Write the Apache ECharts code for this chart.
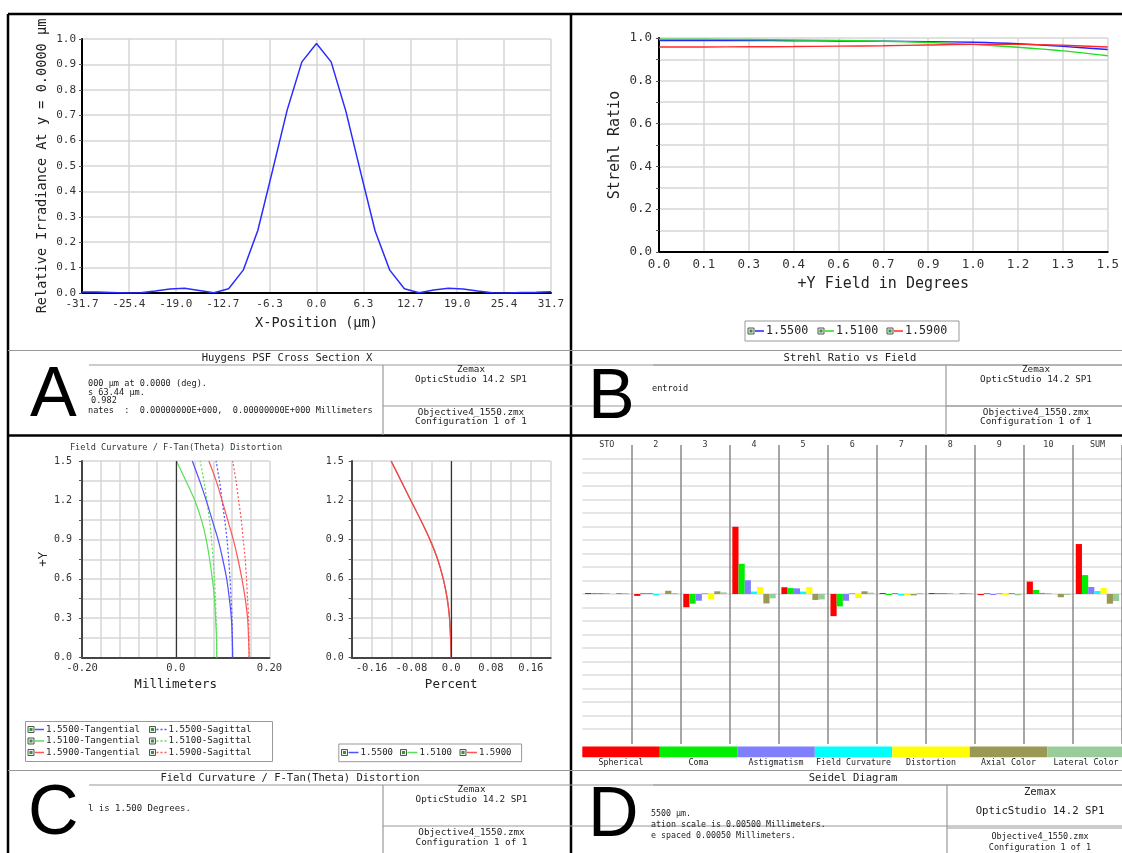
<!DOCTYPE html>
<html>
<head>
<meta charset="utf-8">
<script src="https://cdn.jsdelivr.net/npm/echarts@6/dist/echarts.min.js"></script>
<style>
  html, body { margin: 0; padding: 0; background: #fff; }
  #chart { width: 1122px; height: 853px; }
</style>
</head>
<body>
<div id="chart"></div>
<script>
// ---- A: Huygens PSF cross section ----
const psfX = [-31.72, -29.74, -27.75, -25.77, -23.79, -21.81, -19.82, -17.84, -15.86, -13.88, -11.89, -9.91, -7.93, -5.95, -3.97, -1.98, 0,
              1.98, 3.97, 5.95, 7.93, 9.91, 11.89, 13.88, 15.86, 17.84, 19.82, 21.81, 23.79, 25.77, 27.75, 29.74, 31.72];
const psfIrradiance = [0.004, 0.004, 0.002, 0.000, 0.001, 0.008, 0.016, 0.019, 0.010, 0.001, 0.017, 0.090, 0.247, 0.482, 0.720, 0.910, 0.982,
                       0.910, 0.716, 0.478, 0.244, 0.090, 0.017, 0.001, 0.012, 0.019, 0.016, 0.008, 0.001, 0.000, 0.002, 0.003, 0.005];
const psfTicks = ["-31.7", "-25.4", "-19.0", "-12.7", "-6.3", "0.0", "6.3", "12.7", "19.0", "25.4", "31.7"];
const irradianceTicks = ["0.0", "0.1", "0.2", "0.3", "0.4", "0.5", "0.6", "0.7", "0.8", "0.9", "1.0"];

// ---- B: Strehl ratio vs field ----
const fieldDeg = [0, 0.15, 0.3, 0.45, 0.6, 0.75, 0.9, 1.05, 1.2, 1.35, 1.5];
const strehl1550 = [0.988, 0.988, 0.988, 0.987, 0.986, 0.985, 0.983, 0.980, 0.973, 0.961, 0.946];
const strehl1510 = [0.994, 0.994, 0.993, 0.991, 0.989, 0.985, 0.979, 0.970, 0.957, 0.940, 0.917];
const strehl1590 = [0.958, 0.958, 0.959, 0.960, 0.962, 0.964, 0.967, 0.970, 0.970, 0.966, 0.958];
const fieldDegTicks = ["0.0", "0.1", "0.3", "0.4", "0.6", "0.7", "0.9", "1.0", "1.2", "1.3", "1.5"];
const strehlTicks = ["0.0", "", "0.2", "", "0.4", "", "0.6", "", "0.8", "", "1.0"];

// ---- C: field curvature (mm) and distortion (%) vs +Y field ----
const fieldY = [0, 0.15, 0.3, 0.45, 0.6, 0.75, 0.9, 1.05, 1.2, 1.35, 1.5];
const tan1550 = [0.1214, 0.1207, 0.1186, 0.1143, 0.1087, 0.1002, 0.0904, 0.0776, 0.0650, 0.0508, 0.0353];
const sag1550 = [0.1214, 0.1207, 0.1200, 0.1179, 0.1158, 0.1129, 0.1094, 0.1045, 0.0988, 0.0932, 0.0861];
const tan1510 = [0.0875, 0.0869, 0.0850, 0.0826, 0.0780, 0.0722, 0.0650, 0.0548, 0.0405, 0.0215, 0.0014];
const sag1510 = [0.0875, 0.0874, 0.0862, 0.0847, 0.0826, 0.0798, 0.0762, 0.0720, 0.0663, 0.0600, 0.0522];
const tan1590 = [0.1567, 0.1553, 0.1532, 0.1482, 0.1412, 0.1327, 0.1228, 0.1108, 0.0988, 0.0861, 0.0706];
const sag1590 = [0.1567, 0.1562, 0.1553, 0.1532, 0.1510, 0.1482, 0.1440, 0.1398, 0.1341, 0.1285, 0.1214];
const distortionPct = [0, -0.0013, -0.0033, -0.0080, -0.0160, -0.0273, -0.0427, -0.0613, -0.0813, -0.1010, -0.1207];
const mmTicks = ["-0.20", "", "", "", "", "0.0", "", "", "", "", "0.20"];
const pctTicks = ["", "-0.16", "", "-0.08", "", "0.0", "", "0.08", "", "0.16", ""];
const fieldYTicks = ["0.0", "", "0.3", "", "0.6", "", "0.9", "", "1.2", "", "1.5"];

// ---- D: Seidel diagram (mm) ----
const surfaces = ["STO", "2", "3", "4", "5", "6", "7", "8", "9", "10", "SUM"];
const seidelNames = ["Spherical", "Coma", "Astigmatism", "Field Curvature", "Distortion", "Axial Color", "Lateral Color"];
const spherical    = [0, -0.00007, -0.00049, 0.00249, 0.00025, -0.00082, 0.00003, 0, -0.00004, 0.00046, 0.00185];
const coma         = [0, 0, -0.00036, 0.00112, 0.00022, -0.00046, -0.00003, 0, 0.00003, 0.00015, 0.00070];
const astigmatism  = [0, 0, -0.00025, 0.00051, 0.00021, -0.00025, 0.00003, 0, -0.00002, 0.00004, 0.00026];
const fieldCurv    = [0, -0.00005, 0, 0.00009, 0.00009, 0, -0.00006, 0, 0.00003, 0, 0.00011];
const distortion   = [0, 0, -0.00019, 0.00026, 0.00026, -0.00015, -0.00001, 0, -0.00001, 0, 0.00022];
const axialColor   = [0, 0.00012, 0.00010, -0.00035, -0.00022, 0.00010, -0.00005, 0, 0.00002, -0.00012, -0.00036];
const lateralColor = [0, 0, 0.00006, -0.00016, -0.00020, 0.00005, 0.00002, 0, -0.00005, -0.00002, -0.00026];
const seidelValues = [spherical, coma, astigmatism, fieldCurv, distortion, axialColor, lateralColor];
const seidelColors = ["#ff0000", "#00ee00", "#8080ff", "#00ffff", "#ffff00", "#999955", "#99cc99"];

const MONO = '"DejaVu Sans Mono", monospace';
const GRID = "#d6d6d6";

const chart = echarts.init(document.getElementById("chart"));

// tick label lookup by tick index
const tickFmt = (labels, min, step) => (v) => labels[Math.round((v - min) / step)] ?? "";

const valueAxis = (gridIndex, min, max, step, labels, o) => ({
   gridIndex,
   type: "value",
   min, max, interval: step,
   axisLine: { show: true, onZero: false, lineStyle: { color: o.lineColor || "#000", width: 2 } },
   axisTick: { show: !!o.tick, length: 3, lineStyle: { color: "#555" } },
   axisLabel: { formatter: tickFmt(labels, min, step), fontFamily: MONO, fontSize: o.fs, color: "#333", margin: o.margin },
   splitLine: { show: true, lineStyle: { color: GRID, width: 1.5 } },
   name: o.name || "",
   nameLocation: "middle",
   nameGap: o.nameGap || 0,
   nameRotate: o.rotate || 0,
   nameTextStyle: { fontFamily: MONO, fontSize: o.nameSize || 13, color: "#222" },
});

const txt = (x, y, text, size, align, extra) => ({
   type: "text", x, y, silent: true, z: 60,
   style: Object.assign({ text, font: size + "px " + MONO, fill: "#222", align: align || "left", verticalAlign: "middle" }, extra || {}),
});
const ln = (x1, y1, x2, y2, color, w, dash) => ({
   type: "line", silent: true, z: 60,
   shape: { x1, y1, x2, y2 },
   style: { stroke: color, lineWidth: w, lineDash: dash || null },
});
const bigLetter = (x, y, ch) => txt(x, y, ch, 70, "left", { font: '70px "Liberation Sans", Arial, sans-serif', fill: "#000" });
const checkbox = (x, y) => [
   { type: "rect", silent: true, z: 61, shape: { x: x, y: y - 3, width: 6, height: 6 }, style: { fill: "#eee", stroke: "#555", lineWidth: 1 } },
   { type: "rect", silent: true, z: 62, shape: { x: x + 1.5, y: y - 1.5, width: 3, height: 3 }, style: { fill: "#2a9d2a" } },
];
const legendItem = (x, y, color, label, size, lineLen, dotted) => [
   ...checkbox(x, y),
   ln(x + 7, y, x + 7 + lineLen, y, color, 1.5, dotted ? [2, 2] : null),
   txt(x + 9 + lineLen, y, label, size),
];
const infoBox = (o) => [
   ln(o.x0, o.top, 1122, o.top, "#999", 1.2),
   txt(o.titleX, o.top + 7.5, o.title, 10.5, "center"),
   ln(o.lineX, o.top + 14.5, 1122, o.top + 14.5, "#999", 1.2),
   ln(o.boxX, o.top + 14.5, o.boxX, o.bottom, "#999", 1.2),
   ln(o.boxX, o.splitY, 1122, o.splitY, "#999", 1.2),
];

const fcPairs = (xs) => xs.map((x, i) => [x, fieldY[i]]);

const blue = "#5050ff", green = "#55e055", red = "#ff5555";

const graphics = [
   // outer frame and panel dividers
   ln(8, 14, 1122, 14, "#000", 2.5),
   ln(8, 14, 8, 853, "#000", 2.5),
   ln(571, 14, 571, 853, "#000", 2.5),
   ln(8, 435.5, 1122, 435.5, "#000", 2.5),

   // panel A info
   ...infoBox({ x0: 8, top: 350.5, titleX: 287, title: "Huygens PSF Cross Section X", lineX: 89, boxX: 383, bottom: 435, splitY: 406 }),
   txt(471, 370, "Zemax", 9.3, "center"),
   txt(471, 379.5, "OpticStudio 14.2 SP1", 9.3, "center"),
   txt(471, 413, "Objective4_1550.zmx", 9.3, "center"),
   txt(471, 422, "Configuration 1 of 1", 9.3, "center"),
   txt(88, 384, "000 µm at 0.0000 (deg).", 8.6),
   txt(88, 392.5, "s 63.44 µm.", 8.6),
   txt(91, 401, "0.982", 8.6),
   txt(88, 411, "nates  :  0.00000000E+000,  0.00000000E+000 Millimeters", 8.6),
   bigLetter(30, 397, "A"),

   // panel B info
   ...infoBox({ x0: 571, top: 350.5, titleX: 850, title: "Strehl Ratio vs Field", lineX: 653, boxX: 946, bottom: 435, splitY: 406 }),
   txt(1036, 370, "Zemax", 9.3, "center"),
   txt(1036, 379.5, "OpticStudio 14.2 SP1", 9.3, "center"),
   txt(1036, 413, "Objective4_1550.zmx", 9.3, "center"),
   txt(1036, 422, "Configuration 1 of 1", 9.3, "center"),
   txt(652, 389, "entroid", 8.6),
   bigLetter(588, 399, "B"),

   // panel B legend
   { type: "rect", silent: true, z: 55, shape: { x: 745, y: 321, width: 214, height: 20 }, style: { fill: "#fff", stroke: "#999", lineWidth: 1 } },
   ...legendItem(748, 331, "#2323ff", "1.5500", 11.7, 9),
   ...legendItem(818, 331, "#22dd22", "1.5100", 11.7, 9),
   ...legendItem(887, 331, "#ff2a2a", "1.5900", 11.7, 9),

   // panel C subtitle and legends
   txt(176, 448, "Field Curvature / F-Tan(Theta) Distortion", 8.6, "center", { fill: "#333" }),
   { type: "rect", silent: true, z: 55, shape: { x: 25.5, y: 721.5, width: 247, height: 40 }, style: { fill: "#fff", stroke: "#999", lineWidth: 1 } },
   ...legendItem(28, 729.5, blue, "1.5500-Tangential", 9.2, 9),
   ...legendItem(28, 741, green, "1.5100-Tangential", 9.2, 9),
   ...legendItem(28, 752.5, red, "1.5900-Tangential", 9.2, 9),
   ...legendItem(149.5, 729.5, blue, "1.5500-Sagittal", 9.2, 10, true),
   ...legendItem(149.5, 741, green, "1.5100-Sagittal", 9.2, 10, true),
   ...legendItem(149.5, 752.5, red, "1.5900-Sagittal", 9.2, 10, true),
   { type: "rect", silent: true, z: 55, shape: { x: 338.8, y: 744, width: 182.8, height: 17.7 }, style: { fill: "#fff", stroke: "#999", lineWidth: 1 } },
   ...legendItem(341.5, 752.5, blue, "1.5500", 9, 10),
   ...legendItem(400.5, 752.5, green, "1.5100", 9, 10),
   ...legendItem(460, 752.5, red, "1.5900", 9, 10),

   // panel C info
   ...infoBox({ x0: 8, top: 770.5, titleX: 290, title: "Field Curvature / F-Tan(Theta) Distortion", lineX: 89, boxX: 383, bottom: 853, splitY: 826 }),
   txt(471.5, 790, "Zemax", 9.3, "center"),
   txt(471.5, 800, "OpticStudio 14.2 SP1", 9.3, "center"),
   txt(471.5, 833, "Objective4_1550.zmx", 9.3, "center"),
   txt(471.5, 842.5, "Configuration 1 of 1", 9.3, "center"),
   txt(88, 808.5, "l is 1.500 Degrees.", 9),
   bigLetter(28, 815, "C"),

   // panel D info
   ...infoBox({ x0: 571, top: 770.5, titleX: 853, title: "Seidel Diagram", lineX: 653, boxX: 947, bottom: 853, splitY: 828 }),
   txt(1040, 792, "Zemax", 10.7, "center"),
   txt(1040, 811, "OpticStudio 14.2 SP1", 10.7, "center"),
   txt(1040, 837, "Objective4_1550.zmx", 8.5, "center"),
   txt(1040, 847.5, "Configuration 1 of 1", 8.5, "center"),
   txt(651, 814, "5500 µm.", 8.3),
   txt(651, 825, "ation scale is 0.00500 Millimeters.", 8.3),
   txt(651, 836, "e spaced 0.00050 Millimeters.", 8.3),
   bigLetter(588, 817, "D"),
];

// panel D colour key under the bars
seidelNames.forEach((name, i) => {
   const x = 582.3 + i * 77.5;
   graphics.push({ type: "rect", silent: true, z: 55, shape: { x, y: 746.5, width: 77.5, height: 10.8 }, style: { fill: seidelColors[i] } });
   graphics.push(txt(x + 38.75, 763, name, 8.3, "center"));
});

const fcLine = (xs, color, dotted, xi, width) => ({
   type: "line", xAxisIndex: xi, yAxisIndex: xi,
   data: fcPairs(xs), smooth: 0.3, showSymbol: false, silent: true,
   lineStyle: { color, width: width || 1.2, type: dotted ? [2, 2] : "solid" },
   z: 3,
});

const zeroLine = { silent: true, symbol: "none", label: { show: false }, lineStyle: { color: "#333", width: 1.2, type: "solid" }, data: [{ xAxis: 0 }] };

const option = {
   animation: false,
   backgroundColor: "#fff",
   grid: [
      { left: 82, top: 39, width: 469, height: 254 },
      { left: 659, top: 38, width: 453, height: 214 },
      { left: 82, top: 461, width: 187.5, height: 196.5 },
      { left: 351.7, top: 461, width: 199, height: 196.5 },
      { left: 582.3, top: 459, width: 541.2, height: 270 },
      { left: 582.3, top: 445, width: 541.2, height: 299 },
   ],
   xAxis: [
      valueAxis(0, -31.72, 31.72, 6.344, psfTicks, { fs: 11, margin: 6, name: "X-Position (µm)", nameGap: 23, nameSize: 13.6 }),
      valueAxis(1, 0, 1.5, 0.15, fieldDegTicks, { fs: 12.5, margin: 6, name: "+Y Field in Degrees", nameGap: 24.5, nameSize: 15 }),
      valueAxis(2, -0.2, 0.2, 0.04, mmTicks, { fs: 10.5, margin: 5, lineColor: "#444", name: "Millimeters", nameGap: 21, nameSize: 12.5 }),
      valueAxis(3, -0.2, 0.2, 0.04, pctTicks, { fs: 10.5, margin: 5, lineColor: "#444", name: "Percent", nameGap: 21, nameSize: 12.5 }),
      {
         gridIndex: 4, type: "category", data: surfaces, position: "top",
         axisLine: { show: false }, axisTick: { show: false },
         axisLabel: { interval: 0, fontFamily: MONO, fontSize: 8.4, color: "#333", margin: 10 },
         splitLine: { show: false },
      },
      {
         gridIndex: 5, type: "category", data: surfaces,
         axisLine: { show: false }, axisTick: { show: false }, axisLabel: { show: false },
         splitLine: { show: true, interval: 0, showMinLine: false, lineStyle: { color: "#888", width: 1.5 } },
      },
   ],
   yAxis: [
      valueAxis(0, 0, 1, 0.1, irradianceTicks, { fs: 11, margin: 6, tick: true, name: "Relative Irradiance At y = 0.0000 µm", nameGap: 33, rotate: 90, nameSize: 13.6 }),
      valueAxis(1, 0, 1, 0.1, strehlTicks, { fs: 12.5, margin: 7, tick: true, name: "Strehl Ratio", nameGap: 36, rotate: 90, nameSize: 15 }),
      valueAxis(2, 0, 1.5, 0.15, fieldYTicks, { fs: 10, margin: 10, tick: true, lineColor: "#444", name: "+Y", nameGap: 28, rotate: 90, nameSize: 12.5 }),
      valueAxis(3, 0, 1.5, 0.15, fieldYTicks, { fs: 10, margin: 8, tick: true, lineColor: "#444" }),
      {
         gridIndex: 4, type: "value", min: -0.005, max: 0.005, interval: 0.0005,
         axisLine: { show: false }, axisTick: { show: false }, axisLabel: { show: false },
         splitLine: { show: true, lineStyle: { color: "#dcdcdc", width: 1.5 } },
      },
      { gridIndex: 5, type: "value", min: 0, max: 1, show: false },
   ],
   graphic: graphics,
   series: [
      {
         type: "line", xAxisIndex: 0, yAxisIndex: 0, silent: true,
         data: psfX.map((x, i) => [x, psfIrradiance[i]]),
         showSymbol: false, lineStyle: { color: "#2b2bff", width: 1.5 },
      },
      ...[[strehl1550, "#2323ff"], [strehl1510, "#22dd22"], [strehl1590, "#ff2a2a"]].map(([vals, color]) => ({
         type: "line", xAxisIndex: 1, yAxisIndex: 1, silent: true,
         data: fieldDeg.map((x, i) => [x, vals[i]]),
         showSymbol: false, smooth: 0.3, lineStyle: { color, width: 1.4 },
      })),
      // field curvature, with the zero reference line
      { ...fcLine(tan1510, green, false, 2), markLine: zeroLine },
      fcLine(sag1510, green, true, 2),
      fcLine(tan1550, blue, false, 2),
      fcLine(sag1550, blue, true, 2),
      fcLine(tan1590, red, false, 2),
      fcLine(sag1590, red, true, 2),
      // distortion: the three wavelengths coincide, red is drawn last
      { ...fcLine(distortionPct, blue, false, 3, 0.8), markLine: zeroLine },
      fcLine(distortionPct, green, false, 3, 0.8),
      fcLine(distortionPct, "#ff4444", false, 3, 1.4),
      ...seidelValues.map((vals, i) => ({
         type: "bar", name: seidelNames[i], xAxisIndex: 4, yAxisIndex: 4, silent: true,
         data: vals, barWidth: 6.2, barGap: "0%", barMinHeight: 1,
         itemStyle: { color: seidelColors[i] },
      })),
   ],
};

chart.setOption(option);
</script>
</body>
</html>
